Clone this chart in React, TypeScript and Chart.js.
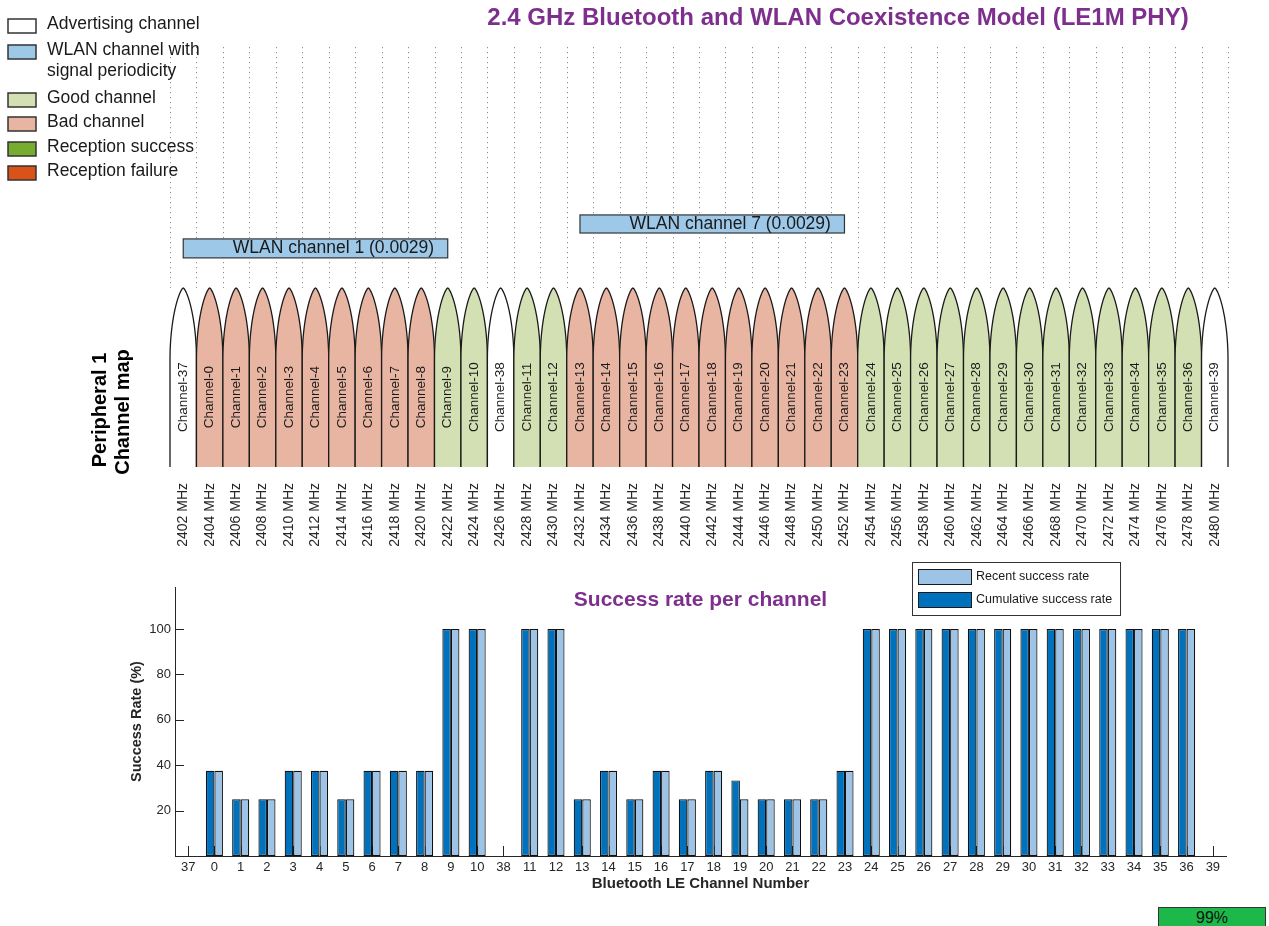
import React, { useEffect, useRef } from 'react';
import { Chart, registerables } from 'chart.js';

Chart.register(...registerables);

const FONT = '"Liberation Sans", Arial, Helvetica, sans-serif';

// ---------- data ----------
const channelNumbers = ['37', '0', '1', '2', '3', '4', '5', '6', '7', '8', '9', '10', '38', '11', '12', '13', '14', '15', '16', '17', '18', '19', '20', '21', '22', '23', '24', '25', '26', '27', '28', '29', '30', '31', '32', '33', '34', '35', '36', '39'];
const frequencyMHz = [2402, 2404, 2406, 2408, 2410, 2412, 2414, 2416, 2418, 2420, 2422, 2424, 2426, 2428, 2430, 2432, 2434, 2436, 2438, 2440, 2442, 2444, 2446, 2448, 2450, 2452, 2454, 2456, 2458, 2460, 2462, 2464, 2466, 2468, 2470, 2472, 2474, 2476, 2478, 2480];
const channelStatus = ['adv', 'bad', 'bad', 'bad', 'bad', 'bad', 'bad', 'bad', 'bad', 'bad', 'good', 'good', 'adv', 'good', 'good', 'bad', 'bad', 'bad', 'bad', 'bad', 'bad', 'bad', 'bad', 'bad', 'bad', 'bad', 'good', 'good', 'good', 'good', 'good', 'good', 'good', 'good', 'good', 'good', 'good', 'good', 'good', 'adv'];
const channelMapLevel = [1, 1, 1, 1, 1, 1, 1, 1, 1, 1, 1, 1, 1, 1, 1, 1, 1, 1, 1, 1, 1, 1, 1, 1, 1, 1, 1, 1, 1, 1, 1, 1, 1, 1, 1, 1, 1, 1, 1, 1];

const cumulativeSuccessRate = [null, 37.5, 25, 25, 37.5, 37.5, 25, 37.5, 37.5, 37.5, 100, 100, null, 100, 100, 25, 37.5, 25, 37.5, 25, 37.5, 33.3, 25, 25, 25, 37.5, 100, 100, 100, 100, 100, 100, 100, 100, 100, 100, 100, 100, 100, null];
const recentSuccessRate = [null, 37.5, 25, 25, 37.5, 37.5, 25, 37.5, 37.5, 37.5, 100, 100, null, 100, 100, 25, 37.5, 25, 37.5, 25, 37.5, 25, 25, 25, 25, 37.5, 100, 100, 100, 100, 100, 100, 100, 100, 100, 100, 100, 100, 100, null];

const wlanLabels = ['WLAN channel 1 (0.0029)', 'WLAN channel 7 (0.0029)'];
const wlanCenterMHz = [2412, 2442];
const wlanBandwidthMHz = [20, 20];

const yTickValues = [20, 40, 60, 80, 100];

const mapLegendLabels = [['Advertising channel'], ['WLAN channel with', 'signal periodicity'], ['Good channel'], ['Bad channel'], ['Reception success'], ['Reception failure']];
const rateLegendLabels = ['Recent success rate', 'Cumulative success rate'];

// ---------- styles ----------
const statusColor: Record<string, string> = { adv: '#FFFFFF', good: '#D3E0B3', bad: '#E8B5A3' };
const mapLegendColors = ['#FFFFFF', '#9DC8E8', '#D3E0B3', '#E8B5A3', '#77AC30', '#D95319'];
const mapLegendY = [26, 52, 100, 124, 149, 173];
const wlanLevels = [[1.168, 1.274], [1.307, 1.408]];
const PURPLE = '#7E2F8E';
const DARK = '#0072BD';
const LIGHT = '#9DC3E6';
const TXT = '#262626';
const ARCH_ROUND = 0.4;

function archRatio(u: number) {
  if (u >= ARCH_ROUND) return 1;
  const v = u / ARCH_ROUND;
  return Math.pow(1 - (1 - v) * (1 - v), 0.7);
}

function traceArch(ctx: CanvasRenderingContext2D, cx: number, hw: number, top: number, base: number) {
  const H = base - top;
  const N = 60;
  ctx.moveTo(cx - hw, base);
  for (let i = N; i >= 0; i--) {
    const u = Math.pow(i / N, 2) * ARCH_ROUND;
    ctx.lineTo(cx - hw * archRatio(u), top + u * H);
  }
  for (let i = 1; i <= N; i++) {
    const u = Math.pow(i / N, 2) * ARCH_ROUND;
    ctx.lineTo(cx + hw * archRatio(u), top + u * H);
  }
  ctx.lineTo(cx + hw, base);
}

const channelMapPlugin = {
  id: 'channelMap',
  beforeDatasetsDraw(chart: any) {
    const { ctx, chartArea } = chart;
    const xs = chart.scales.x;
    const ys = chart.scales.y;
    const yTop = ys.getPixelForValue(1);
    ctx.save();
    ctx.strokeStyle = '#8c8c8c';
    ctx.lineWidth = 1;
    ctx.setLineDash([1.2, 3.8]);
    for (let i = 0; i <= channelNumbers.length; i++) {
      const x = Math.round(xs.getPixelForValue(i - 0.5)) + 0.5;
      ctx.beginPath();
      ctx.moveTo(x, chartArea.top);
      ctx.lineTo(x, yTop);
      ctx.stroke();
    }
    ctx.restore();
  },
  afterDatasetsDraw(chart: any) {
    const { ctx } = chart;
    const xs = chart.scales.x;
    const ys = chart.scales.y;
    const meta = chart.getDatasetMeta(0);
    ctx.save();
    meta.data.forEach((el: any, i: number) => {
      const hw = el.width / 2;
      const top = el.y;
      const base = el.base;
      ctx.beginPath();
      traceArch(ctx, el.x, hw, top, base);
      ctx.closePath();
      ctx.fillStyle = statusColor[channelStatus[i]];
      ctx.fill();
      ctx.beginPath();
      traceArch(ctx, el.x, hw, top, base);
      ctx.strokeStyle = '#1a1a1a';
      ctx.lineWidth = 1.3;
      ctx.stroke();
    });
    // channel names
    ctx.fillStyle = '#1a1a1a';
    ctx.font = `13.5px ${FONT}`;
    ctx.textAlign = 'center';
    ctx.textBaseline = 'middle';
    meta.data.forEach((el: any, i: number) => {
      const y = el.base - 0.39 * (el.base - el.y);
      ctx.save();
      ctx.translate(el.x, y);
      ctx.rotate(-Math.PI / 2);
      ctx.fillText(`Channel-${channelNumbers[i]}`, 0, 0);
      ctx.restore();
    });
    // WLAN boxes
    wlanLabels.forEach((label, k) => {
      const f0 = wlanCenterMHz[k] - wlanBandwidthMHz[k] / 2;
      const f1 = wlanCenterMHz[k] + wlanBandwidthMHz[k] / 2;
      const x0 = xs.getPixelForValue((f0 - frequencyMHz[0]) / 2);
      const x1 = xs.getPixelForValue((f1 - frequencyMHz[0]) / 2);
      const y0 = ys.getPixelForValue(wlanLevels[k][1]);
      const y1 = ys.getPixelForValue(wlanLevels[k][0]);
      ctx.fillStyle = '#9DC8E8';
      ctx.fillRect(x0, y0, x1 - x0, y1 - y0);
      ctx.strokeStyle = '#333333';
      ctx.lineWidth = 1.2;
      ctx.strokeRect(x0, y0, x1 - x0, y1 - y0);
      ctx.fillStyle = '#1a1a1a';
      ctx.font = `17.5px ${FONT}`;
      ctx.textAlign = 'center';
      ctx.textBaseline = 'middle';
      ctx.fillText(label, (x0 + x1) / 2 + 18, (y0 + y1) / 2);
    });
    ctx.restore();
  },
  afterDraw(chart: any) {
    const { ctx } = chart;
    ctx.save();
    // title
    ctx.fillStyle = PURPLE;
    ctx.font = `bold 24px ${FONT}`;
    ctx.textAlign = 'center';
    ctx.textBaseline = 'middle';
    ctx.fillText('2.4 GHz Bluetooth and WLAN Coexistence Model (LE1M PHY)', 838, 18);
    // y label
    ctx.fillStyle = '#000000';
    ctx.font = `bold 20px ${FONT}`;
    ctx.save();
    ctx.translate(100, 410);
    ctx.rotate(-Math.PI / 2);
    ctx.fillText('Peripheral 1', 0, 0);
    ctx.restore();
    ctx.save();
    ctx.translate(123, 412);
    ctx.rotate(-Math.PI / 2);
    ctx.fillText('Channel map', 0, 0);
    ctx.restore();
    // legend
    ctx.font = `17.5px ${FONT}`;
    ctx.textAlign = 'left';
    mapLegendLabels.forEach((lines, i) => {
      const cy = mapLegendY[i];
      ctx.fillStyle = mapLegendColors[i];
      ctx.fillRect(8, cy - 7, 28, 14);
      ctx.strokeStyle = '#333333';
      ctx.lineWidth = 1.5;
      ctx.strokeRect(8, cy - 7, 28, 14);
      ctx.fillStyle = '#1a1a1a';
      lines.forEach((line, j) => {
        ctx.fillText(line, 47, cy - 2 + j * 21);
      });
    });
    ctx.restore();
  },
};

const ratePlugin = {
  id: 'rateExtras',
  beforeDatasetsDraw(chart: any) {
    const { ctx, chartArea } = chart;
    const xs = chart.scales.x;
    const ys = chart.scales.y;
    ctx.save();
    ctx.strokeStyle = TXT;
    ctx.lineWidth = 1;
    yTickValues.forEach((v) => {
      const y = Math.round(ys.getPixelForValue(v)) + 0.5;
      ctx.beginPath();
      ctx.moveTo(chartArea.left, y);
      ctx.lineTo(chartArea.left + 9, y);
      ctx.stroke();
    });
    channelNumbers.forEach((_, i) => {
      const x = Math.round(xs.getPixelForValue(i)) + 0.5;
      ctx.beginPath();
      ctx.moveTo(x, chartArea.bottom);
      ctx.lineTo(x, chartArea.bottom - 10);
      ctx.stroke();
    });
    ctx.restore();
  },
  afterDraw(chart: any) {
    const { ctx, chartArea } = chart;
    ctx.save();
    // title
    ctx.fillStyle = PURPLE;
    ctx.font = `bold 21px ${FONT}`;
    ctx.textAlign = 'center';
    ctx.textBaseline = 'middle';
    ctx.fillText('Success rate per channel', (chartArea.left + chartArea.right) / 2, 40);
    // axis titles
    ctx.fillStyle = TXT;
    ctx.font = `bold 15px ${FONT}`;
    ctx.fillText('Bluetooth LE Channel Number', (chartArea.left + chartArea.right) / 2, 324);
    ctx.font = `bold 14.5px ${FONT}`;
    ctx.save();
    ctx.translate(137, (chartArea.top + chartArea.bottom) / 2);
    ctx.rotate(-Math.PI / 2);
    ctx.fillText('Success Rate (%)', 0, 0);
    ctx.restore();
    // legend
    ctx.fillStyle = '#FFFFFF';
    ctx.fillRect(912.5, 2.5, 208, 53);
    ctx.strokeStyle = '#333333';
    ctx.lineWidth = 1;
    ctx.strokeRect(912.5, 2.5, 208, 53);
    const sw = [LIGHT, DARK];
    const sy = [17, 40];
    ctx.font = `12.5px ${FONT}`;
    ctx.textAlign = 'left';
    rateLegendLabels.forEach((label, i) => {
      ctx.fillStyle = sw[i];
      ctx.fillRect(918, sy[i] - 8, 54, 16);
      ctx.strokeStyle = '#1a1a1a';
      ctx.lineWidth = 1;
      ctx.strokeRect(918.5, sy[i] - 7.5, 53, 15);
      ctx.fillStyle = '#1a1a1a';
      ctx.fillText(label, 976, sy[i]);
    });
    ctx.restore();
  },
};

export default function App() {
  const topRef = useRef<HTMLCanvasElement>(null);
  const botRef = useRef<HTMLCanvasElement>(null);

  useEffect(() => {
    const topChart = new Chart(topRef.current as HTMLCanvasElement, {
      type: 'bar',
      data: {
        labels: frequencyMHz.map((f) => `${f} MHz`),
        datasets: [
          {
            data: channelMapLevel,
            backgroundColor: 'rgba(0,0,0,0)',
            borderWidth: 0,
            barPercentage: 1,
            categoryPercentage: 1,
          },
        ],
      },
      options: {
        responsive: false,
        animation: false,
        devicePixelRatio: 1,
        events: [],
        layout: { padding: { left: 170, right: 41, top: 47, bottom: 0 } },
        plugins: { legend: { display: false }, title: { display: false }, tooltip: { enabled: false } },
        scales: {
          x: {
            type: 'category',
            offset: true,
            grid: { display: false, drawTicks: false },
            border: { display: false },
            ticks: {
              autoSkip: false,
              minRotation: 90,
              maxRotation: 90,
              padding: 16,
              color: TXT,
              font: { family: FONT, size: 14 },
            },
            afterFit: (s: any) => {
              s.height = 93;
            },
          },
          y: { display: false, min: 0, max: 2.346 },
        },
      } as any,
      plugins: [channelMapPlugin],
    });

    const botChart = new Chart(botRef.current as HTMLCanvasElement, {
      type: 'bar',
      data: {
        labels: channelNumbers,
        datasets: [
          {
            label: 'Cumulative success rate',
            data: cumulativeSuccessRate,
            backgroundColor: DARK,
            borderColor: '#111111',
            borderWidth: 1.2,
            borderSkipped: false,
            barPercentage: 1,
            categoryPercentage: 0.65,
          },
          {
            label: 'Recent success rate',
            data: recentSuccessRate,
            backgroundColor: LIGHT,
            borderColor: '#111111',
            borderWidth: 1.2,
            borderSkipped: false,
            barPercentage: 1,
            categoryPercentage: 0.65,
          },
        ],
      },
      options: {
        responsive: false,
        animation: false,
        devicePixelRatio: 1,
        events: [],
        layout: { padding: { left: 115, right: 43, top: 27, bottom: 0 } },
        plugins: { legend: { display: false }, title: { display: false }, tooltip: { enabled: false } },
        scales: {
          x: {
            grid: { display: false, drawTicks: false },
            border: { display: true, color: TXT, width: 1 },
            ticks: { autoSkip: false, maxRotation: 0, padding: 4, color: TXT, font: { family: FONT, size: 13 } },
            afterFit: (s: any) => {
              s.height = 70;
            },
          },
          y: {
            min: 0,
            max: 118.5,
            grid: { display: false, drawTicks: false },
            border: { display: true, color: TXT, width: 1 },
            ticks: {
              stepSize: 20,
              padding: 4,
              color: TXT,
              font: { family: FONT, size: 13 },
              callback: (v: any) => (yTickValues.includes(Number(v)) ? String(v) : ''),
            },
            afterFit: (s: any) => {
              s.width = 60;
            },
          },
        },
      } as any,
      plugins: [ratePlugin],
    });

    return () => {
      topChart.destroy();
      botChart.destroy();
    };
  }, []);

  return (
    <div style={{ position: 'fixed', left: 0, top: 0, width: 1269, height: 926, overflow: 'hidden', background: '#ffffff' }}>
      <canvas ref={topRef} width={1269} height={560} style={{ position: 'absolute', left: 0, top: 0, width: 1269, height: 560 }} />
      <canvas ref={botRef} width={1269} height={366} style={{ position: 'absolute', left: 0, top: 560, width: 1269, height: 366 }} />
      <div
        style={{
          position: 'absolute',
          left: 1158,
          top: 907,
          width: 108,
          height: 24,
          boxSizing: 'border-box',
          background: '#1DB84A',
          border: '1px solid #333333',
          fontFamily: FONT,
          fontSize: 16,
          lineHeight: '20px',
          textAlign: 'center',
          color: '#111111',
        }}
      >
        99%
      </div>
    </div>
  );
}
